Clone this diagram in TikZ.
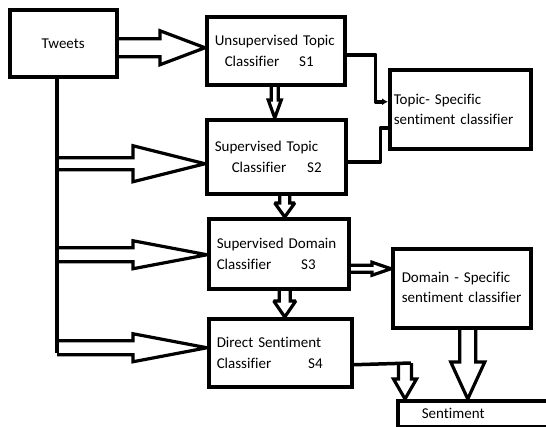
\documentclass[tikz,border=0pt]{standalone}
\usepackage{fontspec}
\setmainfont{Carlito}[Ligatures=CommonOff]
\usetikzlibrary{calc,arrows.meta}

\newcommand{\hollowarrow}[5]{%
  \coordinate (ha) at (#1);
  \coordinate (hb) at (#2);
  \coordinate (hh) at ($(hb)!#5!(ha)$);
  \draw[arrowline] ($(ha)!#3!90:(hb)$) -- ($(hh)!#3!-90:(ha)$) -- ($(hh)!#4!-90:(ha)$) -- (hb)
    -- ($(hh)!#4!90:(ha)$) -- ($(hh)!#3!90:(ha)$) -- ($(ha)!#3!-90:(hb)$);
}

\begin{document}
\begin{tikzpicture}[x=1pt,y=-1pt,
  box/.style={draw, line width=3.5pt, anchor=north west, align=left, inner xsep=8pt, inner ysep=0pt},
  wire/.style={line width=3.5pt, line join=round},
  arrowline/.style={line width=3.2pt, line join=miter, miter limit=2},
  font=\fontsize{15}{20.5}\selectfont]
  \useasboundingbox (0,0) rectangle (546,426);
  \clip (0,0) rectangle (546,426);

  \node[box, align=center, minimum width=107pt, minimum height=67pt, text width=91pt] (tweets) at (8,8) {Tweets};
  \node[box, minimum width=138pt, minimum height=68pt, text width=122pt] (s1) at (205,15)
    {Unsupervised Topic\\\hspace*{10pt}Classifier\hspace{20pt}S1};
  \node[box, minimum width=139pt, minimum height=74pt, text width=123pt] (s2) at (205,118)
    {Supervised Topic\\\hspace*{17pt}Classifier\hspace{21pt}S2};
  \node[box, minimum width=140pt, minimum height=70pt, text width=124pt] (s3) at (207,217)
    {Supervised Domain\\Classifier\hspace{30pt}S3};
  \node[box, minimum width=143pt, minimum height=68pt, text width=127pt] (s4) at (207,317)
    {Direct Sentiment\\Classifier\hspace{37pt}S4};
  \node[box, inner xsep=4pt, minimum width=141pt, minimum height=79pt, text width=133pt] (topic) at (388,68)
    {Topic- Specific\\sentiment classifier};
  \node[box, inner xsep=9pt, minimum width=138pt, minimum height=79pt, text width=120pt, text depth=22pt] (domain) at (391,247)
    {Domain - Specific\\sentiment classifier};
  \node[box, inner xsep=24pt, minimum width=160pt, minimum height=26pt, text width=112pt] (sent) at (396,399) {Sentiment};

  \coordinate (trunk) at (57,353);
  \draw[wire] (trunk |- tweets.south) -- (trunk);

  \hollowarrow{$(tweets.east)+(0,4.5)$}{$(s1.west)+(0,-3)$}{9pt}{17pt}{45pt}
  \hollowarrow{$(trunk |- s2.west)+(0,7)$}{$(s2.west)+(0,7)$}{6pt}{18pt}{72pt}
  \hollowarrow{$(trunk |- s3.west)+(0,1)$}{$(s3.west)+(0,1)$}{7pt}{14pt}{74pt}
  \hollowarrow{$(trunk |- s4.west)+(0,-5)$}{$(s4.west)+(0,-5)$}{7pt}{14pt}{74pt}

  \hollowarrow{$(s1.south)+(-1,0)$}{$(s1.south |- s2.north)+(-1,0)$}{3.5pt}{6.5pt}{18pt}
  \hollowarrow{$(s2.south)+(8.5,0)$}{$(s2.south |- s3.north)+(8.5,0)$}{5pt}{10pt}{14pt}
  \hollowarrow{$(s3.south)+(6,0)$}{$(s3.south |- s4.north)+(6,0)$}{5.5pt}{11pt}{16pt}
  \hollowarrow{$(s3.east)+(0,15)$}{$(s3.east -| domain.west)+(0,15)$}{3.5pt}{6.5pt}{19pt}

  \draw[wire, -{Latex[length=6pt,width=7pt]}] ($(s1.east)+(0,4)$) -- ++(29,0) |- ($(topic.west)+(0,-7.5)$);
  \draw[wire] ($(s2.east)+(0,5)$) -- ++(33,0) |- ($(topic.west)+(0,18.5)$);

  \coordinate (bend) at (405,363);
  \draw[wire] ($(s4.east)+(0,12)$) -- ($(bend)+(6,0)$);
  \hollowarrow{bend}{bend |- sent.north}{6.5pt}{11.5pt}{20pt}
  \hollowarrow{$(domain.south)+(6,0)$}{$(domain.south |- sent.north)+(6,0)$}{8pt}{17pt}{37pt}
\end{tikzpicture}
\end{document}
